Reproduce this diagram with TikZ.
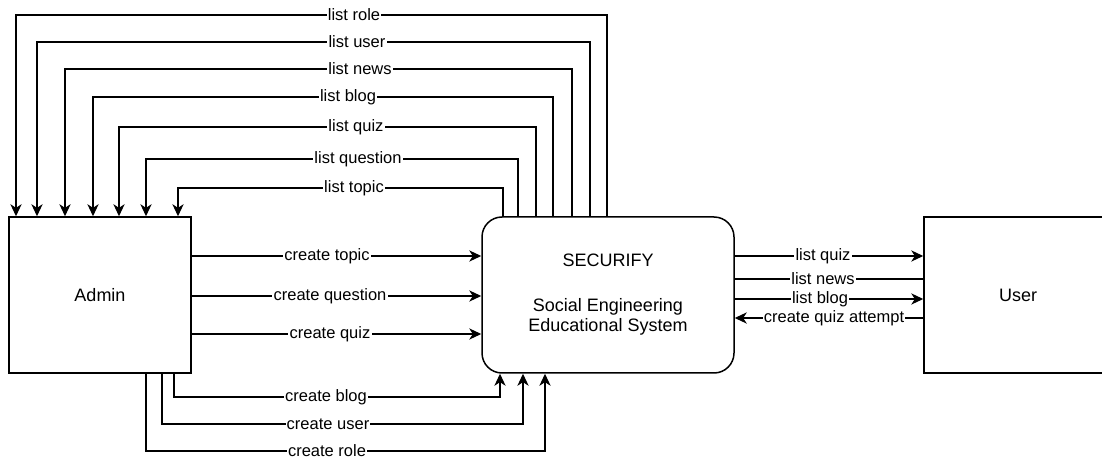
\documentclass[tikz,border=0pt]{standalone}
\usepackage{fontspec}
\setmainfont{Liberation Sans}
\usetikzlibrary{arrows.meta}

\begin{document}
\begin{tikzpicture}[
   x=0.5pt,y=-0.5pt,
   font=\fontsize{8.25}{9.5}\selectfont,
   box/.style={draw,line width=0.75pt,minimum width=91pt,minimum height=78pt,inner sep=0pt,font=\fontsize{9}{10}\selectfont},
   flow/.style={-{Stealth[length=6pt,width=5.6pt,inset=1.8pt]},line width=0.75pt},
   plain/.style={line width=0.75pt},
   lbl/.style={fill=white,inner sep=0.6pt}]
\useasboundingbox (0,0) rectangle (1102,459);
\node[box] (adm) at (100,295) {Admin};
\node[box,rounded corners=10pt,minimum width=126pt,align=center] (sec) at (608,295) {SECURIFY\\[12.5pt]Social Engineering\\Educational System};
\node[box,minimum width=94pt] (usr) at (1018,295) {User};
\foreach \lab/\xs/\xa/\y/\lx in {list role/607/16/15/354, list user/590/37/42/357, list news/572/65/69/360, list blog/553/93/97/348, list quiz/536/119/127/356, list question/518/146/159/358, list topic/503/178/188/354}
  \draw[flow] (sec.north -| \xs,0) -- (\xs,\y) -- (\lx,\y) node[lbl] {\lab} -- (\xa,\y) -- (adm.north -| \xa,0);
\foreach \lab/\y/\lx in {create topic/256/327, create question/296/330, create quiz/334/330}
  \draw[flow] (adm.east |- 0,\y) -- (\lx,\y) node[lbl] {\lab} -- (sec.west |- 0,\y);
\foreach \lab/\xa/\xs/\y/\lx in {create blog/174/500/397/326, create user/162/523/424/328, create role/146/545/451/327}
  \draw[flow] (adm.south -| \xa,0) -- (\xa,\y) -- (\lx,\y) node[lbl] {\lab} -- (\xs,\y) -- (sec.south -| \xs,0);
\draw[flow]  (sec.east |- 0,256) -- (823,256) node[lbl] {list quiz} -- (usr.west |- 0,256);
\draw[plain] (sec.east |- 0,279) -- (823,279) node[lbl] {list news} -- (usr.west |- 0,279);
\draw[flow]  (sec.east |- 0,299) -- (820,299) node[lbl] {list blog} -- (usr.west |- 0,299);
\draw[flow]  (usr.west |- 0,318) -- (834,318) node[lbl] {create quiz attempt} -- (sec.east |- 0,318);
\end{tikzpicture}
\end{document}
